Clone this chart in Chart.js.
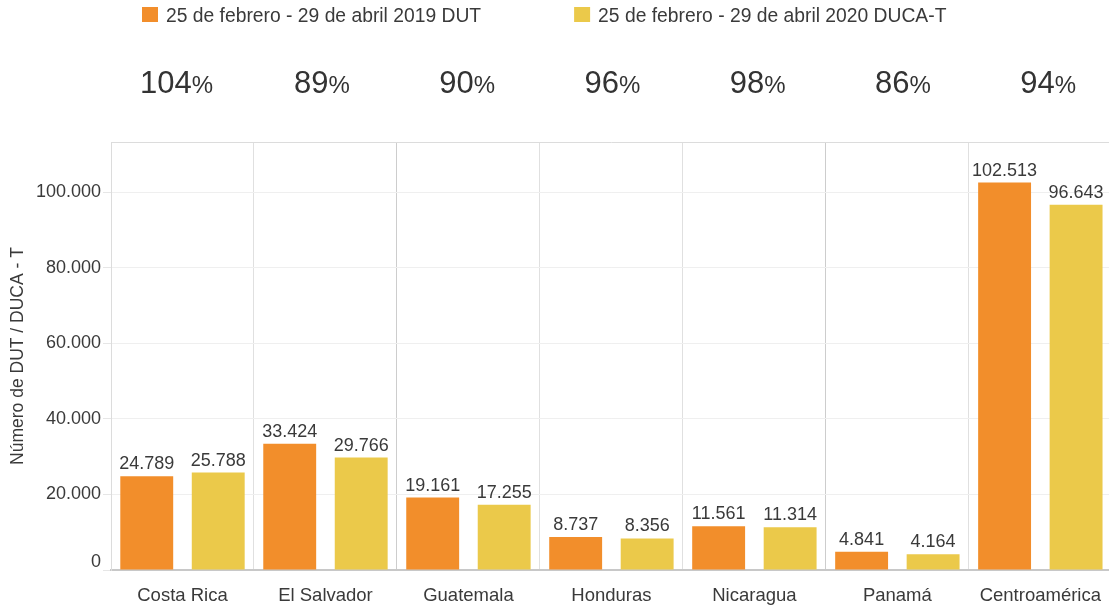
<!DOCTYPE html>
<html>
<head>
<meta charset="utf-8">
<script src="https://cdn.jsdelivr.net/npm/chart.js@4"></script>
<style>
  html, body { margin: 0; padding: 0; background: #fff; overflow: hidden; }
  #wrap { width: 1109px; height: 607px; overflow: hidden; }
</style>
</head>
<body>
<div id="wrap"><canvas id="chart" width="1116" height="607"></canvas></div>
<script>
// ---------------------------------------------------------------------------
// Data
// ---------------------------------------------------------------------------
const categories = ['Costa Rica', 'El Salvador', 'Guatemala', 'Honduras', 'Nicaragua', 'Panamá', 'Centroamérica'];
const seriesNames = ['25 de febrero - 29 de abril 2019 DUT', '25 de febrero - 29 de abril 2020 DUCA-T'];
const dut2019 = [24789, 33424, 19161, 8737, 11561, 4841, 102513];
const duca2020 = [25788, 29766, 17255, 8356, 11314, 4164, 96643];
const ratioPct = [104, 89, 90, 96, 98, 86, 94];
const yTickValues = [0, 20000, 40000, 60000, 80000, 100000];

const ORANGE = '#f28e2b';
const YELLOW = '#ebc94a';
const TEXT = '#3a3a3a';
const FONT = "'Liberation Sans', Arial, sans-serif";

Chart.defaults.font.family = FONT;
Chart.defaults.color = TEXT;

const fmt = n => String(n).replace(/\B(?=(\d{3})+(?!\d))/g, '.');

// ---------------------------------------------------------------------------
// Extras: legend, percentage row, value labels, top border, raised "0" tick
// ---------------------------------------------------------------------------
const extras = {
  id: 'extras',
  beforeDatasetsDraw(chart) {
    const { ctx, chartArea } = chart;
    ctx.save();
    ctx.strokeStyle = '#dcdcdc';
    ctx.lineWidth = 1;
    ctx.beginPath();
    ctx.moveTo(chartArea.left, chartArea.top + 0.5);
    ctx.lineTo(chartArea.right, chartArea.top + 0.5);
    ctx.stroke();

    // the zero tick label sits just above the axis line
    const yScale = chart.scales.y;
    ctx.font = `18px ${FONT}`;
    ctx.fillStyle = TEXT;
    ctx.textAlign = 'right';
    ctx.textBaseline = 'alphabetic';
    ctx.fillText(fmt(yTickValues[0]), chartArea.left - 10, yScale.getPixelForValue(0) - 3.5);
    ctx.restore();
  },
  afterDatasetsDraw(chart) {
    const { ctx, chartArea } = chart;
    ctx.save();

    // value labels above bars
    ctx.font = `18px ${FONT}`;
    ctx.fillStyle = TEXT;
    ctx.textAlign = 'center';
    ctx.textBaseline = 'alphabetic';
    chart.data.datasets.forEach((ds, di) => {
      chart.getDatasetMeta(di).data.forEach((bar, i) => {
        ctx.fillText(fmt(ds.data[i]), bar.x, bar.y - 7);
      });
    });

    // legend
    const colors = [ORANGE, YELLOW];
    ctx.font = `19.3px ${FONT}`;
    ctx.textAlign = 'left';
    let lx = chartArea.left + 31;
    seriesNames.forEach((name, i) => {
      ctx.fillStyle = colors[i];
      ctx.fillRect(lx, 7, 16, 15);
      ctx.fillStyle = TEXT;
      ctx.fillText(name, lx + 24, 22);
      lx += 24 + ctx.measureText(name).width + 93;
    });

    // percentage row
    const rowLeft = chartArea.left - 7;
    const step = (chartArea.width + 16) / categories.length;
    ratioPct.forEach((p, i) => {
      const cx = rowLeft + (i + 0.5) * step;
      ctx.font = `31px ${FONT}`;
      const numW = ctx.measureText(String(p)).width;
      ctx.font = `24px ${FONT}`;
      const pctW = ctx.measureText('%').width;
      const x0 = cx - (numW + pctW) / 2;
      ctx.fillStyle = '#333';
      ctx.font = `31px ${FONT}`;
      ctx.fillText(String(p), x0, 93);
      ctx.font = `24px ${FONT}`;
      ctx.fillText('%', x0 + numW, 93);
    });

    ctx.restore();
  },
};

// ---------------------------------------------------------------------------
// Chart
// ---------------------------------------------------------------------------
new Chart(document.getElementById('chart'), {
  type: 'bar',
  data: {
    labels: categories,
    datasets: [
      {
        label: seriesNames[0],
        data: dut2019,
        backgroundColor: ORANGE,
        categoryPercentage: 1.0,
        barPercentage: 0.74,
      },
      {
        label: seriesNames[1],
        data: duca2020,
        backgroundColor: YELLOW,
        categoryPercentage: 1.0,
        barPercentage: 0.74,
      },
    ],
  },
  options: {
    responsive: false,
    animation: false,
    layout: { padding: { top: 142, left: 1, right: 0, bottom: 0 } },
    plugins: {
      legend: { display: false },
      tooltip: { enabled: false },
    },
    scales: {
      x: {
        afterFit: s => { s.height = 37; },
        grid: {
          offset: true,
          drawTicks: false,
          color: c => (c.index === 2 || c.index === 5) ? '#cdcdcd' : '#e0e0e0',
        },
        border: { display: true, color: '#c8c8c8', width: 2 },
        ticks: { font: { size: 18.5 }, color: TEXT, padding: 15, maxRotation: 0 },
      },
      y: {
        min: 0,
        max: 113250,
        afterFit: s => { s.width = 110; },
        afterBuildTicks: s => {
          s.ticks = yTickValues.map(v => ({ value: v }));
        },
        grid: { color: '#efefef', tickLength: 8, tickColor: '#e6e6e6' },
        border: { display: true, color: '#dcdcdc', width: 1 },
        ticks: {
          font: { size: 18 },
          color: TEXT,
          padding: 2,
          callback: v => (v === 0 ? '' : fmt(v)),
        },
        title: {
          display: true,
          text: 'Número de DUT / DUCA - T',
          font: { size: 17.5 },
          color: TEXT,
          padding: { top: 7, bottom: 0 },
        },
      },
    },
  },
  plugins: [extras],
});
</script>
</body>
</html>
